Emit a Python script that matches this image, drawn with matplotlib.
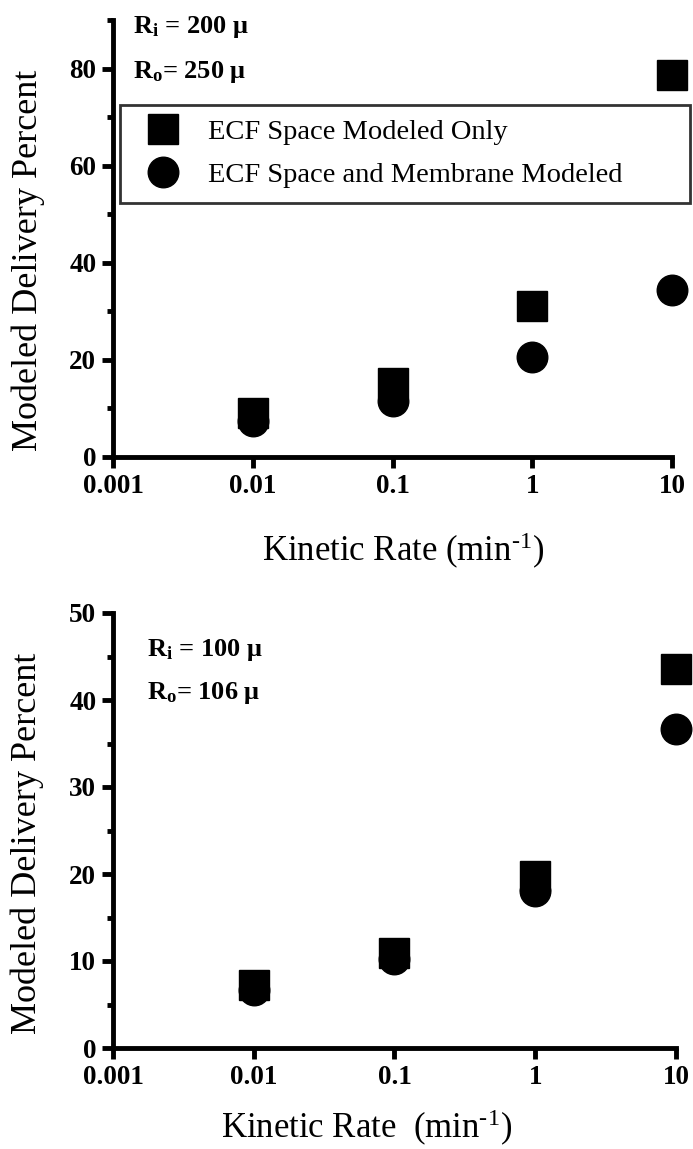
import matplotlib
matplotlib.use("Agg")
import matplotlib.pyplot as plt
from matplotlib.ticker import FixedLocator, NullLocator, NullFormatter

plt.rcParams.update({
    "font.family": ["Liberation Serif", "DejaVu Serif"],
    "mathtext.fontset": "custom",
    "mathtext.rm": "Liberation Serif",
    "mathtext.it": "Liberation Serif:italic",
    "mathtext.bf": "Liberation Serif:bold",
})

# kinetic rate (min^-1) and modeled delivery (%)
rate = [0.01, 0.1, 1, 10]
top_ecf_only = [9.1, 15.3, 31.1, 78.6]
top_ecf_membrane = [7.5, 11.5, 20.6, 34.4]
bot_ecf_only = [7.2, 10.9, 19.8, 43.6]
bot_ecf_membrane = [6.7, 10.2, 18.0, 36.7]

x_ticks = [0.001, 0.01, 0.1, 1, 10]
x_ticklabels = ["0.001", "0.01", "0.1", "1", "10"]
top_yticks = [0, 20, 40, 60, 80]
top_yminor = [10, 30, 50, 70, 90]
bot_yticks = [0, 10, 20, 30, 40, 50]
bot_yminor = [5, 15, 25, 35, 45]

W, H = 693, 1149
fig = plt.figure(figsize=(W / 100, H / 100), dpi=100)
ax1 = fig.add_axes([113 / W, (H - 457) / H, (672 - 113) / W, 437 / H])
ax2 = fig.add_axes([113 / W, (H - 1048) / H, (676 - 113) / W, 435 / H])


def style(ax, ylim, major, minor):
    ax.set_xscale("log")
    ax.set_xlim(0.001, 10)
    ax.set_ylim(*ylim)
    for s in ("top", "right"):
        ax.spines[s].set_visible(False)
    for s in ("left", "bottom"):
        ax.spines[s].set_linewidth(3.5)
    ax.xaxis.set_major_locator(FixedLocator(x_ticks))
    ax.set_xticklabels(x_ticklabels)
    ax.xaxis.set_minor_locator(NullLocator())
    ax.xaxis.set_minor_formatter(NullFormatter())
    ax.yaxis.set_major_locator(FixedLocator(major))
    ax.yaxis.set_minor_locator(FixedLocator(minor))
    ax.tick_params(which="major", direction="out", length=8, width=3.5,
                   labelsize=19.5, pad=4)
    ax.tick_params(axis="y", which="minor", direction="out", length=4, width=3.5)
    for lab in ax.get_xticklabels() + ax.get_yticklabels():
        lab.set_fontweight("bold")


def points(ax, only, memb):
    ax.plot(rate, only, ls="none", marker="s", ms=21, color="black",
            clip_on=False, zorder=3, label="ECF Space Modeled Only")
    ax.plot(rate, memb, ls="none", marker="o", ms=22, color="black",
            clip_on=False, zorder=4, label="ECF Space and Membrane Modeled")


xlabel_top = r"Kinetic Rate (min$^{\text{-1}}$)"
xlabel_bot = r"Kinetic Rate  (min$^{\text{-1}}$)"

# upper panel
style(ax1, (0, 90), top_yticks, top_yminor)
points(ax1, top_ecf_only, top_ecf_membrane)
ax1.text(0.036, 0.984, r"R$_\mathregular{i}$ = 200 μ", transform=ax1.transAxes,
         fontsize=19, fontweight="bold", va="center", ha="left")
ax1.text(0.036, 0.88, r"R$_\mathregular{o}$= 250 μ", transform=ax1.transAxes,
         fontsize=19, fontweight="bold", va="center", ha="left")
leg = ax1.legend(loc="upper left", bbox_to_anchor=(0.0125, 0.805, 1.02, 0.0),
                 mode="expand", fontsize=20.5, frameon=True, fancybox=False,
                 edgecolor="black", borderpad=0.5, labelspacing=0.6,
                 handletextpad=0.6, handlelength=2.0, borderaxespad=0,
                 markerscale=1.0)
leg.get_frame().set_linewidth(2)
ax1.set_ylabel("Modeled Delivery Percent", fontsize=26)
ax1.yaxis.set_label_coords(-0.122, 0.45)
ax1.set_xlabel(xlabel_top, fontsize=25)
ax1.xaxis.set_label_coords(0.52, -0.169)

# lower panel
style(ax2, (0, 50), bot_yticks, bot_yminor)
points(ax2, bot_ecf_only, bot_ecf_membrane)
ax2.text(0.06, 0.915, r"R$_\mathregular{i}$ = 100 μ", transform=ax2.transAxes,
         fontsize=19, fontweight="bold", va="center", ha="left")
ax2.text(0.06, 0.816, r"R$_\mathregular{o}$= 106 μ", transform=ax2.transAxes,
         fontsize=19, fontweight="bold", va="center", ha="left")
ax2.set_ylabel("Modeled Delivery Percent", fontsize=26)
ax2.yaxis.set_label_coords(-0.122, 0.47)
ax2.set_xlabel(xlabel_bot, fontsize=25)
ax2.xaxis.set_label_coords(0.45, -0.137)

fig.savefig("out.png", dpi=100)
